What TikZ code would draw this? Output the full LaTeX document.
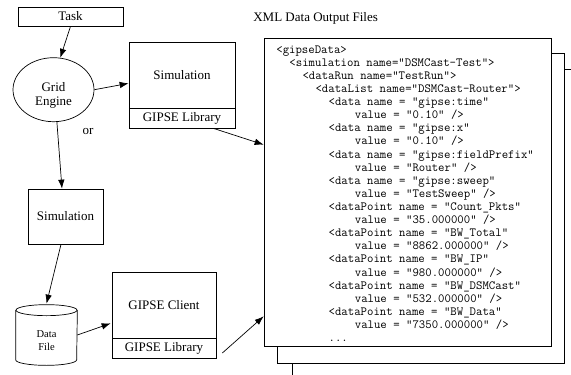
\documentclass[tikz,border=0pt]{standalone}
\usepackage{fontspec}
\setmainfont{Liberation Serif}
\usetikzlibrary{arrows.meta,calc,shapes.geometric}
\begin{document}
\begin{tikzpicture}[x=1pt,y=-1pt, line width=0.7pt,
  box/.style={draw, rectangle, inner sep=0pt, font=\fontsize{13}{15}\selectfont},
  lbl/.style={inner sep=0pt, font=\fontsize{13}{14.5}\selectfont, align=center},
  arr/.style={-{Latex[length=9pt,width=6.5pt]}},
  pagebox/.style={draw, fill=white, inner sep=0pt, rectangle},
  code/.style={anchor=base west, inner sep=0pt, font=\ttfamily\fontsize{12.45}{13}\selectfont}]
\useasboundingbox (0,0) rectangle (571,375);

% left side nodes
\node[box, minimum width=105pt, minimum height=19pt] (task) at (70.5,16.5) {Task};
\node[draw, ellipse, inner sep=0pt, minimum width=81pt, minimum height=64pt] (ge) at (53.5,89.7) {};
\node[lbl] (getxt) at (53.5,95.5) {Grid\\Engine};
\node[box, minimum width=106pt, minimum height=66pt] (sim1) at (182,75) {Simulation};
\node[box, minimum width=106pt, minimum height=20pt] (lib1) at (182,118) {GIPSE Library};
\node[lbl] (or) at (88,131) {or};
\node[box, minimum width=75pt, minimum height=55pt] (sim2) at (65.5,216.5) {Simulation};
\node[box, minimum width=104pt, minimum height=66pt] (cli) at (164,305) {GIPSE Client};
\node[box, minimum width=104pt, minimum height=20pt] (lib2) at (164,348) {GIPSE Library};

% data file cylinder
\node[inner sep=0pt, minimum width=61pt, minimum height=60pt] (df) at (46.5,335) {};
\draw ($(df.north west)+(0,5.5)$) -- ($(df.south west)+(0,-5.5)$)
  arc[start angle=180, end angle=360, x radius=30.5pt, y radius=5.5pt]
  -- ($(df.north east)+(0,5.5)$);
\draw ($(df.north)+(0,5.5)$) ellipse [x radius=30.5pt, y radius=5.5pt];
\node[inner sep=0pt, align=center, font=\fontsize{10.5}{13}\selectfont] (dftxt) at (46.5,340.5) {Data\\File};

% pages
\node[pagebox, minimum width=308pt, minimum height=331pt] (p3) at (446,234.5) {};
\node[pagebox, minimum width=287pt, minimum height=310pt] (p2) at (420.5,208) {};
\node[pagebox, minimum width=287pt, minimum height=308pt] (p1) at (407.5,192) {};
\node[anchor=west, inner sep=0pt, font=\fontsize{13}{15}\selectfont] (title) at (253,18) {XML Data Output Files};

% code
\node[code] (c1) at (276,53.0) {<gipseData>};
\node[code] (c2) at (289.1,66.1) {<simulation name="DSMCast-Test">};
\node[code] (c3) at (302.2,79.2) {<dataRun name="TestRun">};
\node[code] (c4) at (315.2,92.4) {<dataList name="DSMCast-Router">};
\node[code] (c5) at (328.3,105.5) {<data name = "gipse:time"};
\node[code] (c6) at (354.5,118.6) {value = "0.10" />};
\node[code] (c7) at (328.3,131.7) {<data name = "gipse:x"};
\node[code] (c8) at (354.5,144.8) {value = "0.10" />};
\node[code] (c9) at (328.3,158.0) {<data name = "gipse:fieldPrefix"};
\node[code] (c10) at (354.5,171.1) {value = "Router" />};
\node[code] (c11) at (328.3,184.2) {<data name = "gipse:sweep"};
\node[code] (c12) at (354.5,197.3) {value = "TestSweep" />};
\node[code] (c13) at (328.3,210.4) {<dataPoint name = "Count\_Pkts"};
\node[code] (c14) at (354.5,223.6) {value = "35.000000" />};
\node[code] (c15) at (328.3,236.7) {<dataPoint name = "BW\_Total"};
\node[code] (c16) at (354.5,249.8) {value = "8862.000000" />};
\node[code] (c17) at (328.3,262.9) {<dataPoint name = "BW\_IP"};
\node[code] (c18) at (354.5,276.0) {value = "980.000000" />};
\node[code] (c19) at (328.3,289.2) {<dataPoint name = "BW\_DSMCast"};
\node[code] (c20) at (354.5,302.3) {value = "532.000000" />};
\node[code] (c21) at (328.3,315.4) {<dataPoint name = "BW\_Data"};
\node[code] (c22) at (354.5,328.5) {value = "7350.000000" />};
\node[code] (c23) at (328.3,341.6) {...};

% connectors
\draw[arr] (task.south) -- (ge.78);
\draw[arr] (ge.east) -- ($(sim1.south west)+(0,-25)$);
\draw[arr] ($(lib1.south east)+(-22,0)$) -- ($(p1.north west)+(0,107)$);
\draw[arr] (ge.276) -- ($(sim2.north)+(-3.5,0)$);
\draw[arr] ($(sim2.south)+(-4.5,0)$) -- ($(df.north)+(0,-1)$);
\draw[arr] (df.east) -- ($(cli.south west)+(-1,-15)$);
\draw[arr] ($(lib2.east)+(6,5)$) -- ($(p1.south west)+(0,-30)$);
\end{tikzpicture}
\end{document}
